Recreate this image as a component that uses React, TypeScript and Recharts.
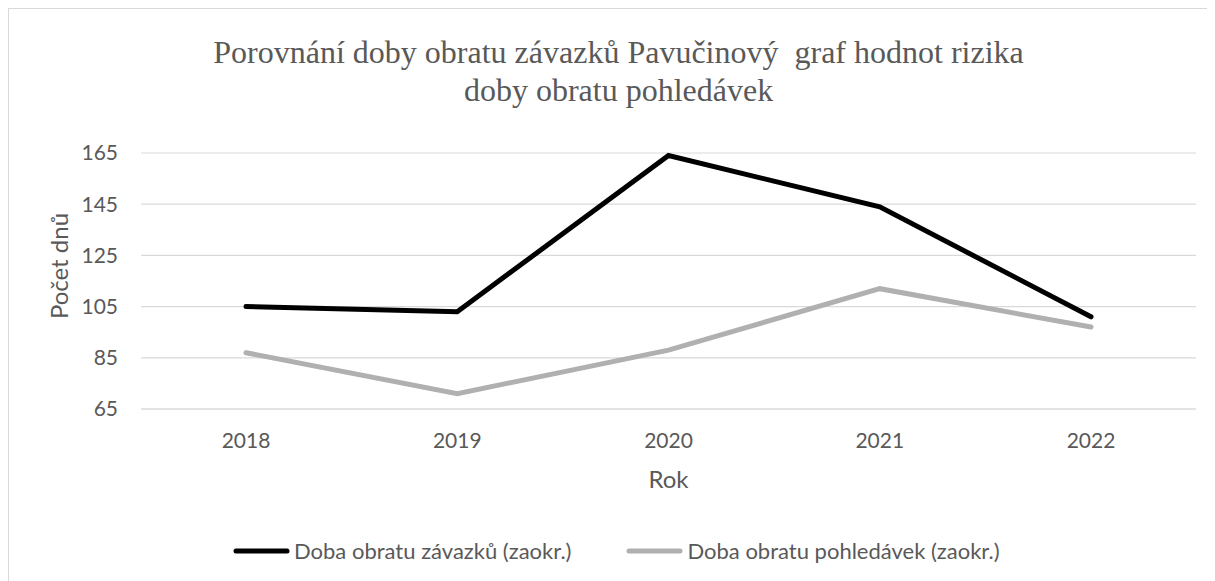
import React from 'react';
import { LineChart, CartesianGrid, XAxis, YAxis, Line, Label } from 'recharts';

const years = ['2018', '2019', '2020', '2021', '2022'];
const payablesDays = [105, 103, 164, 144, 101];
const receivablesDays = [87, 71, 88, 112, 97];
const yTicks = [65, 85, 105, 125, 145, 165];

const seriesNames = ['Doba obratu závazků (zaokr.)', 'Doba obratu pohledávek (zaokr.)'];
const seriesColors = ['#000000', '#b0b0b0'];

const data = years.map((year, i) => ({
  year,
  payables: payablesDays[i],
  receivables: receivablesDays[i],
}));

const FONT = 'Lato, "Open Sans", sans-serif';
const TEXT = '#595959';

const YTitle = (props: any) => {
  const vb = props.viewBox;
  const x = 60;
  const y = vb.y + vb.height / 2 - 15;
  return (
    <text x={x} y={y} transform={`rotate(-90 ${x} ${y})`} textAnchor="middle" fill={TEXT} fontSize={24} fontFamily={FONT}>
      Počet dnů
    </text>
  );
};

const XTitle = (props: any) => {
  const vb = props.viewBox;
  return (
    <text x={vb.x + vb.width / 2} y={vb.y + 79} textAnchor="middle" fill={TEXT} fontSize={24} fontFamily={FONT}>
      Rok
    </text>
  );
};

const App: React.FC = () => {
  return (
    <div
      style={{
        position: 'relative',
        width: 1207,
        height: 573,
        borderLeft: '1px solid #d9d9d9',
        borderTop: '1px solid #d9d9d9',
        boxSizing: 'border-box',
        background: '#fff',
      }}
    >
      <div
        style={{
          position: 'absolute',
          top: 24,
          left: 2,
          width: 1215,
          textAlign: 'center',
          fontFamily: '"Liberation Serif", "Times New Roman", serif',
          fontSize: 32,
          lineHeight: '38px',
          color: TEXT,
          whiteSpace: 'pre',
        }}
      >
        {'Porovnání doby obratu závazků Pavučinový  graf hodnot rizika'}
        <br />
        {'doby obratu pohledávek'}
      </div>
      <LineChart
        width={1207}
        height={573}
        data={data}
        margin={{ top: 145, right: 19, left: 0, bottom: 0 }}
        style={{ position: 'absolute', top: -1, left: -1 }}
      >
        <CartesianGrid vertical={false} stroke="#d9d9d9" strokeWidth={1.2} />
        <XAxis
          dataKey="year"
          axisLine={{ stroke: '#d9d9d9', strokeWidth: 1.2 }}
          tickLine={false}
          padding={{ left: 105, right: 105 }}
          tick={{ fill: TEXT, fontSize: 21, fontFamily: FONT }}
          tickMargin={18}
          height={172}
        >
          <Label content={XTitle} />
        </XAxis>
        <YAxis
          domain={[65, 165]}
          ticks={yTicks}
          axisLine={false}
          tickLine={false}
          width={133}
          tick={{ fill: TEXT, fontSize: 21, fontFamily: FONT }}
          tickMargin={17}
        >
          <Label content={YTitle} />
        </YAxis>
        <Line
          type="linear"
          dataKey="payables"
          name={seriesNames[0]}
          stroke={seriesColors[0]}
          strokeWidth={5}
          strokeLinecap="round"
          dot={false}
          isAnimationActive={false}
        />
        <Line
          type="linear"
          dataKey="receivables"
          name={seriesNames[1]}
          stroke={seriesColors[1]}
          strokeWidth={5}
          strokeLinecap="round"
          dot={false}
          isAnimationActive={false}
        />
      </LineChart>
      <div
        style={{
          position: 'absolute',
          top: 528,
          left: 224,
          display: 'flex',
          alignItems: 'center',
          fontFamily: FONT,
          fontSize: 22,
          color: TEXT,
          whiteSpace: 'nowrap',
        }}
      >
        {seriesNames.map((name, i) => (
          <div key={name} style={{ display: 'flex', alignItems: 'center', marginRight: 55 }}>
            <svg width={57} height={12} style={{ marginRight: 4 }}>
              <line x1={3} y1={6} x2={54} y2={6} stroke={seriesColors[i]} strokeWidth={5} strokeLinecap="round" />
            </svg>
            <span>{name}</span>
          </div>
        ))}
      </div>
    </div>
  );
};

export default App;
